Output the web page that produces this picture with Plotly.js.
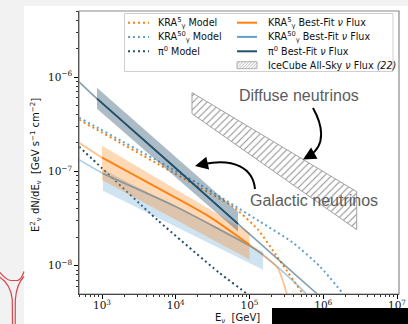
<!DOCTYPE html>
<html><head><meta charset="utf-8">
<script src="https://cdn.plot.ly/plotly-3.0.1.min.js"></script>
<style>html,body{margin:0;padding:0;background:#f2f2f2;overflow:hidden}#chart{width:408px;height:324px}</style>
</head><body><div id="chart"></div>
<script>
// ---------- data ----------
const pi0FitE    = [488, 855, 1e4, 69800, 1e6];
const pi0FitFlux = [8.9e-7, 5.9e-7, 1.08e-7, 2.78e-8, 4.4e-9];
const pi0BandE     = [855, 69800];
const pi0BandUpper = [7.71e-7, 3.74e-8];
const pi0BandLower = [4.62e-7, 2.30e-8];

const kra5FitE    = [488, 1000, 1e4, 3e4, 1e5, 1.6e5, 2.4e5, 3.2e5, 3.5e5];
const kra5FitFlux = [2.01e-7, 1.40e-7, 5.26e-8, 3.23e-8, 1.67e-8, 1.25e-8, 9.5e-9, 5.1e-9, 4.0e-9];
const kra5BandE     = [1000, 1e5];
const kra5BandUpper = [1.87e-7, 2.24e-8];
const kra5BandLower = [8.1e-8, 1.16e-8];

const kra50FitE    = [488, 1030, 1e4, 1e5, 152400, 3.03e5, 5.66e5, 7e5];
const kra50FitFlux = [1.33e-7, 9.5e-8, 4.23e-8, 1.63e-8, 1.31e-8, 8.24e-9, 5.18e-9, 4.2e-9];
const kra50BandE     = [1030, 152400];
const kra50BandUpper = [1.05e-7, 1.41e-8];
const kra50BandLower = [6.24e-8, 9.08e-9];

const kra5ModelE    = [488, 21300, 59700, 130300, 236000, 514000];
const kra5ModelFlux = [3.53e-7, 6.71e-8, 4.23e-8, 2.41e-8, 1.25e-8, 5.18e-9];
const kra50ModelE    = [488, 21300, 139000, 389000, 903000, 1850000];
const kra50ModelFlux = [3.71e-7, 7.23e-8, 2.93e-8, 1.75e-8, 9.8e-9, 5.06e-9];
const pi0ModelE    = [488, 1000, 5570, 39000, 91000, 120000];
const pi0ModelFlux = [1.83e-7, 1.08e-7, 3.08e-8, 8.4e-9, 5.06e-9, 4.0e-9];

const iceE     = [16600, 2840000];
const iceUpper = [6.83e-7, 6.09e-8];
const iceLower = [4.09e-7, 2.41e-8];

const xTickVals = [1e3, 1e4, 1e5, 1e6, 1e7];
const xTickText = ['10<sup>3</sup>', '10<sup>4</sup>', '10<sup>5</sup>', '10<sup>6</sup>', '10<sup>7</sup>'];
const yTickVals = [1e-8, 1e-7, 1e-6];
const yTickText = ['10<sup>−8</sup>', '10<sup>−7</sup>', '10<sup>−6</sup>'];

const legendCol1 = ['KRA<sup>5</sup><sub>γ</sub> Model', 'KRA<sup>50</sup><sub>γ</sub> Model', 'π<sup>0</sup> Model'];
const legendCol2 = ['KRA<sup>5</sup><sub>γ</sub> Best-Fit <i>ν</i> Flux', 'KRA<sup>50</sup><sub>γ</sub> Best-Fit <i>ν</i> Flux',
                    'π<sup>0</sup> Best-Fit <i>ν</i> Flux', 'IceCube All-Sky <i>ν</i> Flux <i>(22)</i>'];

// ---------- styling ----------
const ORANGE = '#ff7f0e', BLUE = '#5fa2d0', NAVY = '#24506b';
const DOT = '2px,3px';
const L = 79, R = 399, T = 11, B = 294, W = R - L, H = B - T;
const PX = px => (px - L) / W;
const PY = py => (B - py) / H;

function line(x, y, color, width, dash, opacity) {
  return {type: 'scatter', mode: 'lines', x: x, y: y, line: {color: color, width: width, dash: dash || 'solid', shape: 'spline', smoothing: 0.6},
          opacity: opacity == null ? 1 : opacity, hoverinfo: 'skip', showlegend: false};
}
function band(E, up, lo, fill) {
  return {type: 'scatter', mode: 'lines', x: E.concat(E.slice().reverse()).concat([E[0]]),
          y: up.concat(lo.slice().reverse()).concat([up[0]]), fill: 'toself', fillcolor: fill,
          line: {width: 0, color: fill}, hoverinfo: 'skip', showlegend: false};
}

const traces = [
  {type: 'scatter', mode: 'lines', x: iceE.concat(iceE.slice().reverse()).concat([iceE[0]]),
   y: iceUpper.concat(iceLower.slice().reverse()).concat([iceUpper[0]]), fill: 'toself',
   fillcolor: 'rgba(0,0,0,0)', fillpattern: {shape: '/', fgcolor: '#8c8c8c', bgcolor: 'rgba(0,0,0,0)', size: 5, solidity: 0.2},
   line: {color: '#a0a0a0', width: 1}, hoverinfo: 'skip', showlegend: false},
  line(kra5ModelE, kra5ModelFlux, ORANGE, 2, DOT),
  line(kra50ModelE, kra50ModelFlux, BLUE, 2, DOT),
  line(pi0ModelE, pi0ModelFlux, NAVY, 2, DOT),
  line(kra50FitE, kra50FitFlux, BLUE, 1.6, 'solid', 0.55),
  line(kra50FitE.slice(1, 5), kra50FitFlux.slice(1, 5), BLUE, 1.6),
  band(kra50BandE, kra50BandUpper, kra50BandLower, 'rgba(95,162,208,0.3)'),
  line(kra5FitE, kra5FitFlux, ORANGE, 1.6, 'solid', 0.5),
  band(kra5BandE, kra5BandUpper, kra5BandLower, 'rgba(255,127,14,0.3)'),
  line(kra5FitE.slice(1, 5), kra5FitFlux.slice(1, 5), ORANGE, 1.8),
  band(pi0BandE, pi0BandUpper, pi0BandLower, 'rgba(36,80,107,0.38)'),
  line(pi0FitE, pi0FitFlux, NAVY, 1.6, 'solid', 0.55),
  line(pi0FitE.slice(1, 4), pi0FitFlux.slice(1, 4), NAVY, 1.8)
];

function minorVals(d0, d1) {
  const v = [];
  for (let d = d0; d <= d1; d++) for (let k = 2; k <= 9; k++) v.push(k * Math.pow(10, d));
  return v;
}

// ---------- shapes ----------
const shapes = [];
shapes.push({type: 'rect', xref: 'paper', yref: 'paper', x0: PX(24), x1: PX(420), y0: PY(6), y1: PY(340),
             fillcolor: '#ffffff', line: {width: 0}, layer: 'below'});
shapes.push({type: 'rect', xref: 'paper', yref: 'paper', x0: 0, x1: 1, y0: 0, y1: 1,
             line: {color: '#8a8a8a', width: 1.2}, layer: 'above'});
shapes.push({type: 'rect', xref: 'paper', yref: 'paper', x0: PX(124.5), x1: PX(393), y0: PY(71.5), y1: PY(13.5),
             fillcolor: 'rgba(255,255,255,0.85)', line: {color: '#cfcfcf', width: 1}, layer: 'above'});
const rowsY = [22.7, 36.9, 51.3, 65.2];
const col1Colors = [ORANGE, BLUE, NAVY];
const col2Colors = [ORANGE, BLUE, NAVY];
for (let i = 0; i < 3; i++) {
  shapes.push({type: 'line', xref: 'paper', yref: 'paper', x0: PX(128), x1: PX(149), y0: PY(rowsY[i]), y1: PY(rowsY[i]),
               line: {color: col1Colors[i], width: 2, dash: DOT}, layer: 'above'});
  shapes.push({type: 'line', xref: 'paper', yref: 'paper', x0: PX(237), x1: PX(257), y0: PY(rowsY[i]), y1: PY(rowsY[i]),
               line: {color: col2Colors[i], width: 2}, layer: 'above'});
}
shapes.push({type: 'rect', xref: 'paper', yref: 'paper', x0: PX(237), x1: PX(257), y0: PY(68.7), y1: PY(61.7),
             line: {color: '#a0a0a0', width: 0.8}, layer: 'above'});
(function () {
  let p = '';
  const x0b = 237, x1b = 257, yb = 68.7, yt = 61.7, h = yb - yt;
  for (let k = -h; k < x1b - x0b; k += 3) {
    let xa = x0b + k, ya = yb, xb = xa + h, yb2 = yt;
    if (xa < x0b) { ya = yb - (x0b - xa); xa = x0b; }
    if (xb > x1b) { yb2 = yt + (xb - x1b); xb = x1b; }
    if (xb > xa) p += 'M' + PX(xa) + ',' + PY(ya) + 'L' + PX(xb) + ',' + PY(yb2);
  }
  shapes.push({type: 'path', xref: 'paper', yref: 'paper', path: p, line: {color: '#9a9a9a', width: 0.7}, layer: 'above'});
})();
function bez(p) { return 'M' + PX(p[0]) + ',' + PY(p[1]) + ' C' + PX(p[2]) + ',' + PY(p[3]) + ' ' + PX(p[4]) + ',' + PY(p[5]) + ' ' + PX(p[6]) + ',' + PY(p[7]); }
shapes.push({type: 'path', xref: 'paper', yref: 'paper', path: bez([313, 108, 322, 124, 327, 145, 309, 156]),
             line: {color: '#000', width: 2}, layer: 'above'});
shapes.push({type: 'path', xref: 'paper', yref: 'paper', path: bez([255, 189, 253, 168, 234, 158, 204, 164]),
             line: {color: '#000', width: 2}, layer: 'above'});
shapes.push({type: 'rect', xref: 'paper', yref: 'paper', x0: PX(272), x1: PX(420), y0: PY(308), y1: PY(340),
             fillcolor: '#000', line: {width: 0}, layer: 'above'});
const red = '#d4474c';
shapes.push({type: 'path', xref: 'paper', yref: 'paper',
             path: 'M' + PX(-1) + ',' + PY(271.5) + ' Q' + PX(7) + ',' + PY(281) + ' ' + PX(11.5) + ',' + PY(280.5) +
                   ' L' + PX(16.5) + ',' + PY(280.5) + ' Q' + PX(21) + ',' + PY(281) + ' ' + PX(24) + ',' + PY(271.5),
             line: {color: red, width: 1.2}, layer: 'above'});
shapes.push({type: 'path', xref: 'paper', yref: 'paper',
             path: 'M' + PX(-1) + ',' + PY(276.5) + ' Q' + PX(11) + ',' + PY(284) + ' ' + PX(12.3) + ',' + PY(300) + ' L' + PX(12.5) + ',' + PY(326),
             line: {color: red, width: 1.2}, layer: 'above'});
shapes.push({type: 'path', xref: 'paper', yref: 'paper',
             path: 'M' + PX(24) + ',' + PY(276.5) + ' Q' + PX(16.5) + ',' + PY(284) + ' ' + PX(15.3) + ',' + PY(300) + ' L' + PX(15.2) + ',' + PY(326),
             line: {color: red, width: 1.2}, layer: 'above'});

// ---------- annotations ----------
const legFont = {family: 'DejaVu Sans, sans-serif', size: 9.6, color: '#111'};
const annotations = [];
for (let i = 0; i < legendCol1.length; i++)
  annotations.push({xref: 'paper', yref: 'paper', x: PX(156), y: PY(rowsY[i]), xanchor: 'left', yanchor: 'middle',
                    text: legendCol1[i], showarrow: false, font: legFont});
for (let i = 0; i < legendCol2.length; i++)
  annotations.push({xref: 'paper', yref: 'paper', x: PX(266), y: PY(rowsY[i]), xanchor: 'left', yanchor: 'middle',
                    text: legendCol2[i], showarrow: false, font: legFont});
const noteFont = {family: 'Liberation Sans, Arial, sans-serif', size: 16, color: '#5c5c5c'};
annotations.push({xref: 'paper', yref: 'paper', x: PX(298.5), y: PY(95), text: 'Diffuse neutrinos', showarrow: false,
                  xanchor: 'center', yanchor: 'middle', font: noteFont});
annotations.push({xref: 'paper', yref: 'paper', x: PX(314), y: PY(200), text: 'Galactic neutrinos', showarrow: false,
                  xanchor: 'center', yanchor: 'middle', font: noteFont});
annotations.push({xref: 'paper', yref: 'paper', x: PX(303), y: PY(159.5), ax: 7, ay: -4, text: ' ', showarrow: true,
                  arrowhead: 2, arrowsize: 1.3, arrowwidth: 2, arrowcolor: '#000', standoff: 0});
annotations.push({xref: 'paper', yref: 'paper', x: PX(195), y: PY(166), ax: 9, ay: -2, text: ' ', showarrow: true,
                  arrowhead: 2, arrowsize: 1.3, arrowwidth: 2, arrowcolor: '#000', standoff: 0});
const axFont = {family: 'DejaVu Sans, sans-serif', size: 10, color: '#111'};
annotations.push({xref: 'paper', yref: 'paper', x: PX(237), y: PY(318), text: 'E<sub>ν</sub>  [GeV]', showarrow: false,
                  xanchor: 'center', yanchor: 'middle', font: axFont});
annotations.push({xref: 'paper', yref: 'paper', x: PX(36), y: PY(165), textangle: -90,
                  text: 'E<sup>2</sup><sub>ν</sub> dN/dE<sub>ν</sub>  [GeV s<sup>−1</sup> cm<sup>−2</sup>]', showarrow: false,
                  xanchor: 'center', yanchor: 'middle', font: axFont});

const tickFont = {family: 'DejaVu Serif, serif', size: 10.5, color: '#111'};
const layout = {
  width: 408, height: 324,
  margin: {l: L, r: 408 - R, t: T, b: 324 - B, pad: 0},
  paper_bgcolor: '#f2f2f2', plot_bgcolor: '#ffffff',
  showlegend: false,
  xaxis: {type: 'log', range: [2.688, 7.027], showgrid: false, zeroline: false,
          showline: true, linecolor: '#000', linewidth: 1.2,
          ticks: 'outside', ticklen: 3.5, tickwidth: 1, tickcolor: '#000', ticklabelstandoff: -2,
          tickmode: 'array', tickvals: xTickVals, ticktext: xTickText, tickfont: tickFont,
          minor: {tickmode: 'array', tickvals: minorVals(2, 6), ticks: 'outside', ticklen: 2, tickwidth: 0.8, tickcolor: '#000', showgrid: false}},
  yaxis: {type: 'log', range: [-8.30, -5.30], showgrid: false, zeroline: false,
          showline: true, linecolor: '#000', linewidth: 1.2,
          ticks: 'outside', ticklen: 3.5, tickwidth: 1, tickcolor: '#000',
          tickmode: 'array', tickvals: yTickVals, ticktext: yTickText, tickfont: tickFont,
          minor: {tickmode: 'array', tickvals: minorVals(-9, -6), ticks: 'outside', ticklen: 2, tickwidth: 0.8, tickcolor: '#000', showgrid: false}},
  shapes: shapes,
  annotations: annotations
};
Plotly.newPlot('chart', traces, layout, {staticPlot: true, displayModeBar: false});
</script></body></html>
